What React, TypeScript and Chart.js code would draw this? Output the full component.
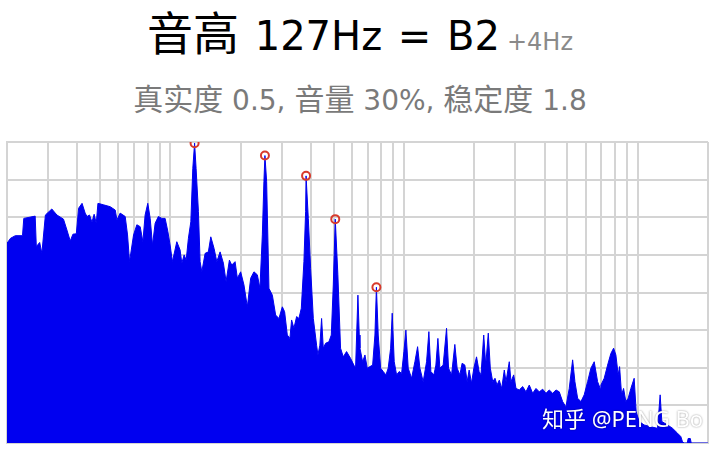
import React, { useEffect, useRef } from "react";
import { Chart, registerables } from "chart.js";

Chart.register(...registerables);

// Spectrum: frequency (Hz) and level (relative dB, 0..80)
const freqHz = [
  20, 20.7, 21.7, 23.3, 23.6, 26.4, 26.7, 27.6, 28.2, 29.2,
  31.1, 32.7, 34.9, 36.1, 37.3, 38.3, 39.6, 40.5, 41.9, 43.2,
  44.0, 45.1, 46.2, 47.2, 48.2, 49.0, 51.8, 55.3, 58.1, 59.1,
  61.0,
  64.1, 65.6, 66.9, 69.6, 71.9, 74.3, 76.3, 78.0, 80.1, 82.0,
  83.9, 86.1, 88.9, 92.0, 95.0, 97.6, 99.8, 102.1, 106.6, 110.1,
  112.0, 114.6, 116.9, 119.5, 122.4, 124.8, 127, 128.9, 131.9, 134.1,
  136.4, 140.9, 145.5, 149.0, 153.9, 158.1, 163.3, 168.7, 173.2, 179.0,
  183.2, 189.3, 193.6, 200,
  206.6, 213.6, 220.7, 228.0, 235.7, 241.8, 247.6, 251.5, 254, 258.3,
  264.3, 273.3, 282.3, 291.6, 301.5, 308.4, 316.7, 324.9, 330.4, 338.0,
  347.1, 355.0, 363.5, 373.0, 379.3, 381, 389.5, 398.5, 409.2, 422.7,
  428.2, 436.5, 444.0, 451.5, 461.8, 477.1, 488.5, 498.2, 508, 521.2,
  535.2, 549.7, 567.9, 590.6, 610.2, 620.5, 635, 643.5,
  647.9, 665.3, 680.6, 696.2, 714.9, 734.2, 751.0, 762, 775.8, 794.4,
  815, 837, 856, 876.6, 890.4, 908.2, 929.8, 953.9, 976.9, 999.1,
  1018.9, 1042.4, 1077.8, 1113.4, 1143.5, 1169.6, 1208.1, 1249.1, 1277.9, 1303.3,
  1342.6, 1369.2, 1396.6, 1424.2, 1471.1, 1521, 1551.4, 1597.8, 1650.5, 1688.2,
  1733.9, 1773.5, 1821.6, 1863.2, 1900.4, 1945.5, 1990.4, 2043.8, 2096.6,
  2136, 2194, 2238, 2295, 2341, 2397, 2452, 2501, 2558, 2619,
  2687, 2733, 2822, 2870, 2947, 3015, 3114, 3220, 3327, 3437,
  3554, 3672, 3793, 3922, 4051, 4185, 4328, 4471, 4618, 4775,
  4932, 5095, 5269, 5389, 5535, 5718, 5906, 6107, 6309, 6517,
  6739, 6914,
  6962, 7191, 7436, 7681, 7889, 8069, 8253, 8368, 8535, 8704,
  8903, 9108, 9352, 9661, 9855, 10149, 10662, 11388, 12166, 12481,
  12690, 13423, 14101, 14813, 15302, 15558, 15800, 16300, 16450, 16800,
  16950, 20000,
];

const levelDb = [
  53.1, 54.4, 55.1, 55.1, 59.7, 60.3, 52.2, 53.3, 50.4, 60.6,
  62.2, 60.6, 59.5, 56.6, 53.7, 55.5, 55.6, 62.4, 63.7, 61.1,
  60.2, 60.6, 58.7, 60.8, 58.4, 63.7, 63.3, 62.8, 61.9, 59.3,
  61.1,
  60.2, 55.3, 48.2, 55.3, 58, 57.5, 53.5, 60.6, 63.7, 59.7,
  52.6, 58.4, 60.2, 59.7, 59.7, 56.2, 52.6, 48.2, 53.5, 51.3,
  47.8, 50, 48.6, 54.4, 58.8, 73, 79.7, 73, 61.5, 48.2,
  45.5, 50.4, 50.8, 54.8, 51.7, 48.2, 50.8, 47.8, 42.9, 48.6,
  47.3, 48.2, 43.8, 45.5,
  42, 36.2, 43.8, 45.5, 44.7, 41.1, 55.3, 69.5, 76.4, 69.5,
  41.1, 39.3, 34, 33.1, 36.2, 34.9, 28.7, 27.8, 32.7, 30.5,
  33.6, 33.1, 35.8, 48.2, 61.5, 71, 59.7, 46.4, 33.1, 26,
  23.4, 26, 33.1, 25.2, 26.5, 26.9, 28.7, 42, 59.5, 44.7,
  25.2, 22.9, 24.3, 22.5, 20.7, 19.9, 39.3, 28.7,
  25.2, 21.6, 23.4, 19.9, 20.3, 20.7, 28.7, 41.4, 28.7, 19.9,
  19, 18.1, 19.9, 25.2, 34.5, 21.6, 18.1, 19, 18.5, 24.3,
  30, 19.9, 17.2, 21.6, 25.6, 19.9, 16.3, 21.6, 29.6, 19,
  18.1, 20.7, 27.8, 19.9, 20.7, 30.5, 19.9, 18.1, 26.2, 19.9,
  18.1, 21.2, 20.7, 16.3, 19.4, 15.9, 19.9, 22.9, 19,
  18.1, 28.7, 20.7, 29.2, 19.9, 16.3, 17.2, 15.4, 16.7, 14.5,
  19.4, 16.3, 21.6, 16.3, 18.1, 14.5, 14.1, 15, 13.6, 15.4,
  13.2, 14.5, 13.6, 14.3, 13.2, 14.1, 13.2, 14.1, 13.6, 11,
  9.6, 14.5, 22.1, 16.3, 11.9, 11, 12.8, 16.3, 19.9, 21.6,
  16.3, 14.5,
  15.4, 17.2, 20.7, 23.8, 25.2, 23.4, 18.1, 20.3, 12.8, 14.5,
  11, 11.9, 14.5, 17.2, 8.3, 5.7, 4.8, 4.3, 3.9, 12.8,
  5.7, 4.8, 3.9, 2.6, 1.7, 0.3, 0, 0, 1.2, 1.2,
  0, 0,
];

// Detected harmonic peaks (red circles)
const peakHz = [127, 254, 381, 508, 762];
const peakLevel = [79.7, 76.4, 71, 59.5, 41.4];

// Grid lines of the log frequency axis
const gridHz = [
  20, 30, 40, 50, 60, 70, 80, 90, 100,
  200, 300, 400, 500, 600, 700, 800, 900, 1000,
  2000, 3000, 4000, 5000, 6000, 7000, 8000, 9000, 10000, 20000,
];
const levelMin = 0;
const levelMax = 80;
const levelStep = 10;

const titleMain = "音高";
const titleLatin = " 127Hz = B2";
const titleOffset = "+4Hz";
const subtitleParts = ["真实度", " 0.5, ", "音量", " 30%, ", "稳定度", " 1.8"];
const watermark = "知乎 @PENG Bo";

const BLUE = "#0000f0";
const GRID = "#d4d4d4";
const LATIN = '"DejaVu Sans", "Noto Sans CJK SC", sans-serif';
const CJK = '"Noto Sans CJK SC", "Noto Sans", sans-serif';

export default function App() {
  const canvasRef = useRef<HTMLCanvasElement | null>(null);

  useEffect(() => {
    const canvas = canvasRef.current;
    if (!canvas) return;
    const n = Math.min(freqHz.length, levelDb.length);
    const spectrum = [];
    for (let i = 0; i < n; i++) spectrum.push({ x: freqHz[i], y: levelDb[i] });
    const peaks = peakHz.map((f, i) => ({ x: f, y: peakLevel[i] }));

    const chart = new Chart(canvas, {
      type: "line",
      data: {
        datasets: [
          {
            type: "line",
            data: peaks,
            showLine: false,
            pointRadius: 4,
            pointBorderWidth: 2,
            pointBorderColor: "#d83a2c",
            pointBackgroundColor: "rgba(0,0,0,0)",
            order: 0,
          },
          {
            type: "line",
            data: spectrum,
            borderColor: BLUE,
            backgroundColor: BLUE,
            borderWidth: 1,
            fill: "origin",
            pointRadius: 0,
            tension: 0,
            order: 1,
          },
        ],
      },
      options: {
        animation: false,
        responsive: false,
        devicePixelRatio: 1,
        layout: {
          autoPadding: false,
          padding: { left: 7, right: 12, top: 12, bottom: 8 },
        },
        plugins: {
          legend: { display: false },
          tooltip: { enabled: false },
          title: { display: false },
        },
        scales: {
          x: {
            type: "logarithmic",
            min: gridHz[0],
            max: gridHz[gridHz.length - 1],
            afterBuildTicks: (scale: any) => {
              scale.ticks = gridHz.map((v) => ({ value: v }));
            },
            ticks: { display: false },
            grid: { color: GRID, lineWidth: 2, drawTicks: false },
            border: { color: GRID, width: 2 },
          },
          y: {
            type: "linear",
            min: levelMin,
            max: levelMax,
            ticks: { display: false, stepSize: levelStep },
            grid: { color: GRID, lineWidth: 2, drawTicks: false },
            border: { color: GRID, width: 2 },
          },
        },
      },
    } as any);
    return () => chart.destroy();
  }, []);

  return (
    <div
      style={{
        position: "absolute",
        left: 0,
        top: 0,
        width: 720,
        height: 451,
        background: "#fff",
        overflow: "hidden",
      }}
    >
      <div
        style={{
          position: "absolute",
          left: 0,
          top: 10,
          width: 720,
          textAlign: "center",
          whiteSpace: "pre",
          lineHeight: "40px",
          color: "#000",
        }}
      >
        <span style={{ fontFamily: CJK, fontSize: 46 }}>{titleMain}</span>
        <span style={{ fontFamily: LATIN, fontSize: 40, wordSpacing: 3 }}>{titleLatin}</span>
        <span style={{ fontFamily: LATIN, fontSize: 24, color: "#8a8a8a", marginLeft: 7 }}>
          {titleOffset}
        </span>
      </div>
      <div
        style={{
          position: "absolute",
          left: 0,
          top: 82,
          width: 720,
          textAlign: "center",
          whiteSpace: "pre",
          lineHeight: "30px",
          color: "#7a7a7a",
        }}
      >
        {subtitleParts.map((p, i) => (
          <span
            key={i}
            style={{ fontFamily: i % 2 === 0 ? CJK : LATIN, fontSize: i % 2 === 0 ? 30 : 28 }}
          >
            {p}
          </span>
        ))}
      </div>
      <canvas
        ref={canvasRef}
        width={720}
        height={321}
        style={{ position: "absolute", left: 0, top: 130, width: 720, height: 321 }}
      />
      <div
        style={{
          position: "absolute",
          left: 542,
          top: 407,
          fontFamily: '"Noto Sans", "Noto Sans CJK SC", sans-serif',
          fontSize: 22,
          lineHeight: "22px",
          color: "#fff",
          whiteSpace: "pre",
          textShadow: "0 0 2px rgba(0,0,0,0.45)",
        }}
      >
        {watermark}
      </div>
    </div>
  );
}
